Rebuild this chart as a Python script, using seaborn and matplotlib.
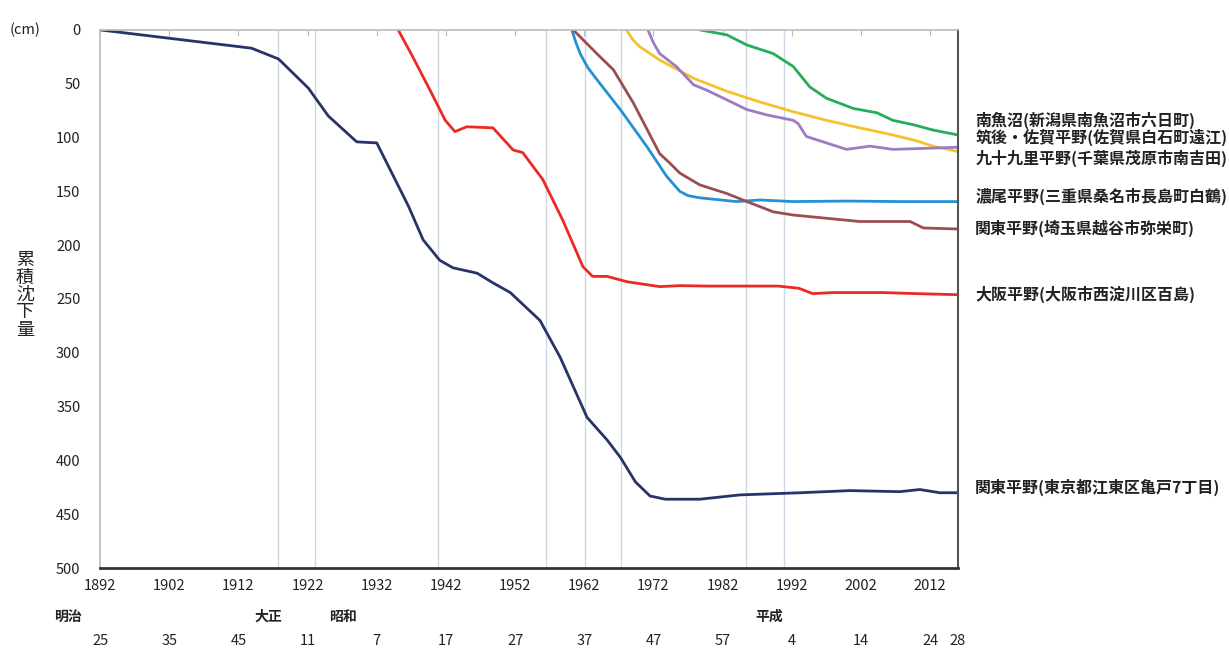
import pandas as pd
import matplotlib.pyplot as plt
import matplotlib.transforms as mtransforms
import seaborn as sns

# --- data (year, cumulative subsidence in cm) ---
tokyo_year = [1892, 1913.9, 1917.8, 1922.1, 1925.0, 1929.1, 1932.0, 1936.6, 1938.7, 1941.1, 1943.0,
              1946.5, 1948.8, 1951.3, 1955.6, 1958.5, 1962.4, 1965.3, 1967.2, 1969.4, 1971.5, 1973.7,
              1978.7, 1981.6, 1984.5, 1993.2, 2000.4, 2007.6, 2010.5, 2013.4, 2016]
tokyo_cm = [0, 17, 27, 54, 80, 104, 105, 164, 195, 214, 221,
            226, 235, 244, 270, 304, 360, 381, 397, 420, 433, 436,
            436, 434, 432, 430, 428, 429, 427, 430, 430]

osaka_year = [1935.1, 1937.2, 1939.7, 1941.9, 1943.3, 1945.0, 1948.8, 1951.7, 1953.1, 1956.0, 1958.9,
              1961.8, 1963.2, 1965.3, 1968.2, 1972.9, 1975.8, 1980, 1990, 1993, 1995, 1998, 2005, 2010, 2016]
osaka_cm = [0, 25, 56, 84, 94.5, 90, 91, 111.5, 114, 139, 177,
            220, 229, 229, 234, 238.5, 237.6, 238, 238, 240, 245, 244, 244, 245, 246]

nobi_year = [1960.2, 1960.8, 1961.4, 1962.5, 1963.8, 1967.2, 1971.0, 1973.9, 1975.8, 1977.0, 1978.7,
             1984.0, 1987.4, 1992.2, 2000, 2008, 2016]
nobi_cm = [0, 12, 22, 35, 46, 74, 108, 136, 150, 154, 156, 159.5, 158, 159.5, 159, 159.5, 159.5]

saitama_year = [1960.4, 1963.8, 1966.2, 1969.1, 1972.9, 1974.4, 1975.8, 1978.7, 1982.6, 1985.5, 1989.3,
                1992.2, 1997.0, 2001.8, 2009.1, 2011.0, 2016]
saitama_cm = [0, 22, 37, 68, 115, 124, 133, 144, 152, 159.5, 169,
              172, 175, 178, 178, 184, 185]

saga_year = [1968.1, 1969.0, 1970.0, 1972.9, 1977.8, 1982.6, 1987.4, 1992.2, 1997.0, 2001.8, 2006.6,
             2010.0, 2012.4, 2016]
saga_cm = [0, 9, 15.5, 28, 45, 57, 67, 76, 84, 91, 97.6, 103, 108, 113]

kujukuri_year = [1971.2, 1972.0, 1972.9, 1975.3, 1977.8, 1979.7, 1982.6, 1985.5, 1988.4, 1992.2, 1992.9,
                 1994.1, 1997.0, 1999.9, 2003.3, 2006.6, 2011.5, 2016]
kujukuri_cm = [0, 12, 22, 34, 51, 56, 65, 74, 79, 84, 87,
               99, 105, 111, 108, 111, 110, 109]

minamiuonuma_year = [1978.7, 1982.6, 1985.5, 1989.3, 1992.2, 1994.6, 1997.0, 2000.9, 2004.3, 2006.6,
                     2009.5, 2012.4, 2016]
minamiuonuma_cm = [0, 4.6, 14, 22, 34, 53, 63.5, 73, 77, 84, 88, 93, 97.6]

sites = ["南魚沼(新潟県南魚沼市六日町)", "筑後・佐賀平野(佐賀県白石町遠江)", "九十九里平野(千葉県茂原市南吉田)",
         "濃尾平野(三重県桑名市長島町白鶴)", "関東平野(埼玉県越谷市弥栄町)", "大阪平野(大阪市西淀川区百島)",
         "関東平野(東京都江東区亀戸7丁目)"]
site_years = [minamiuonuma_year, saga_year, kujukuri_year, nobi_year, saitama_year, osaka_year, tokyo_year]
site_cms = [minamiuonuma_cm, saga_cm, kujukuri_cm, nobi_cm, saitama_cm, osaka_cm, tokyo_cm]
label_cm = [84, 100, 119, 155, 184, 246, 425]
colors = ["#25ad5a", "#f6c22b", "#9d7bc4", "#2590d3", "#9b4e50", "#ec2a25", "#27346a"]

ref_lines = [1917.7, 1923.1, 1940.8, 1956.5, 1962.1, 1967.3, 1985.4, 1990.9]

year_ticks = [1892, 1902, 1912, 1922, 1932, 1942, 1952, 1962, 1972, 1982, 1992, 2002, 2012]
era_num_years = [1892, 1902, 1912, 1922, 1932, 1942, 1952, 1962, 1972, 1982, 1992, 2002, 2012, 2016]
era_nums = ["25", "35", "45", "11", "7", "17", "27", "37", "47", "57", "4", "14", "24", "28"]
era_name_years = [1887.4, 1916.4, 1927.1, 1988.8]
era_names = ["明治", "大正", "昭和", "平成"]

rows = []
for name, ys, cs in zip(sites, site_years, site_cms):
    for y, c in zip(ys, cs):
        rows.append({"year": y, "cm": c, "site": name})
df = pd.DataFrame(rows)

sns.set_style("white")
plt.rcParams["font.family"] = ["Noto Sans CJK JP", "DejaVu Sans"]

fig = plt.figure(figsize=(12.29, 6.5), dpi=100)
ax = fig.add_axes([0.0814, 0.126, 0.698, 0.828])

for xv in ref_lines:
    ax.axvline(xv, color="#cdd7e3", lw=1, zorder=0)

sns.lineplot(data=df, x="year", y="cm", hue="site", palette=dict(zip(sites, colors)),
             sort=False, estimator=None, legend=False, lw=2, ax=ax)

ax.set_xlim(1892, 2016)
ax.set_ylim(500, 0)
ax.set_yticks(range(0, 501, 50))
ax.set_xticks(year_ticks)
ax.set_xlabel("")
ax.set_ylabel("")
ax.tick_params(axis="both", length=0, labelsize=10.5, colors="#222222")
ax.tick_params(axis="x", pad=8)
ax.tick_params(axis="y", pad=14)
ax.tick_params(top=True, direction="in", length=4, color="#bbbbbb", which="major", axis="x")

for side in ["left", "top"]:
    ax.spines[side].set_color("#bbbbbb")
    ax.spines[side].set_linewidth(1.2)
ax.spines["bottom"].set_color("#333333")
ax.spines["bottom"].set_linewidth(2)
ax.spines["right"].set_color("#555555")
ax.spines["right"].set_linewidth(1.5)

for name, yv, c in zip(sites, label_cm, colors):
    ax.text(2018.5, yv, name, fontsize=11.5, fontweight="bold", color="#222222",
            va="center", ha="left", clip_on=False)

trans = mtransforms.blended_transform_factory(ax.transData, ax.transAxes)
for xv, t in zip(era_num_years, era_nums):
    ax.text(xv, -0.135, t, transform=trans, fontsize=10.5, ha="center", va="center", color="#222222")
for xv, t in zip(era_name_years, era_names):
    ax.text(xv, -0.09, t, transform=trans, fontsize=10, fontweight="bold", ha="center", va="center",
            color="#222222")

fig.text(25 / 1229, 1 - 30 / 650, "(cm)", fontsize=10.5, ha="center", va="center", color="#222222")
fig.text(25 / 1229, 1 - 295 / 650, "\n".join("累積沈下量"), fontsize=13, ha="center", va="center",
         linespacing=0.95, color="#222222")

plt.savefig("out.png", dpi=100)
